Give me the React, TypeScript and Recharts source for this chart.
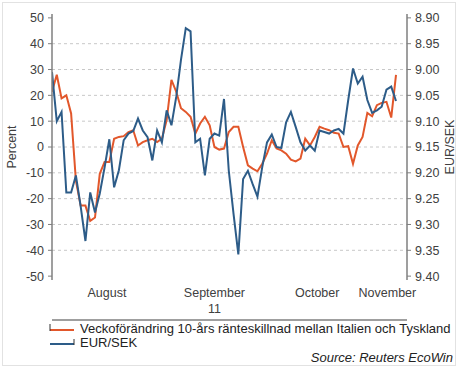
import React from 'react';
import { ComposedChart, Line, XAxis, YAxis, ReferenceLine, Legend } from 'recharts';

// Business-day index from 1 Aug 2011 (0) to ~10 Nov 2011
const spreadChange = [
  21.4, 28, 18.8, 20, 13, -13, -22.7, -22.7, -28.6, -27.3,
  -10.4, -5.8, -5.8, 3.2, 3.9, 4.2, 5.8, 6.5, 0.6, 1.9,
  2.6, 3.2, 1.9, 3.2, 10.4, 26, 21.4, 15, 13.6, 11.7,
  5.2, 9.1, 11.7, 8.4, 0, -1, -0.6, 5.8, 7.8, 7.8,
  0, -7.1, -8.4, -9.4, -6.5, -2.6, 2.6, -0.6, -1.3, -2.6,
  -4.9, -5.6, -4.5, 3.2, 0.6, 3.9, 7.8, 7.1, 6.5, 5.5,
  5.2, 0, 0.3, -6.5, 0.6, 3.9, 13.2, 11.9, 16.2, 17.1,
  17.5, 11.4, 27.9,
];

const eurSek = [
  9.005, 9.1, 9.082, 9.238, 9.238, 9.205, 9.265, 9.332, 9.238, 9.277,
  9.24, 9.19, 9.135, 9.228, 9.195, 9.137, 9.124, 9.119, 9.095, 9.118,
  9.131, 9.176, 9.118, 9.141, 9.079, 9.108, 9.053, 8.981, 8.92, 8.926,
  9.141, 9.134, 9.205, 9.134, 9.124, 9.128, 9.057, 9.196, 9.28, 9.358,
  9.212, 9.196, 9.222, 9.246, 9.189, 9.141, 9.126, 9.15, 9.152, 9.102,
  9.082, 9.111, 9.141, 9.157, 9.147, 9.157, 9.118, 9.121, 9.124, 9.118,
  9.115, 9.124, 9.059, 8.998, 9.027, 9.014, 9.059, 9.084, 9.079, 9.072,
  9.039, 9.033, 9.061,
];

const monthStarts = [0, 23, 45, 66];
const monthMids = [11.5, 34, 55.5, 70.2];
const monthLabels = ['August', 'September', 'October', 'November'];
const yearLabel = '11';
const leftTicks = [-50, -40, -30, -20, -10, 0, 10, 20, 30, 40, 50];
const rightTicks = [8.9, 8.95, 9.0, 9.05, 9.1, 9.15, 9.2, 9.25, 9.3, 9.35, 9.4];
const gridValues = [-40, -30, -20, -10, 0, 10, 20, 30, 40];

const seriesNames = {
  spread: 'Veckoförändring 10-års ränteskillnad mellan Italien och Tyskland',
  sek: 'EUR/SEK',
};
const legendOrder = [seriesNames.spread, seriesNames.sek];
const sourceText = 'Source: Reuters EcoWin';

const data = spreadChange.map((v, i) => ({ i, spread: v, sek: eurSek[i] }));

const FONT = '"Liberation Sans", Arial, sans-serif';
const ORANGE = '#E2572B';
const BLUE = '#2D5C88';
const AXIS = '#7f7f7f';
const TEXT = '#404040';

const MonthTick = (props: any) => {
  const { x, y, payload } = props;
  const idx = monthMids.indexOf(payload.value);
  return (
    <g>
      <text x={x} y={y} dy={17} textAnchor="middle" fontSize={12.5} fontFamily={FONT} fill={TEXT}>
        {monthLabels[idx]}
      </text>
      {idx === 1 && (
        <text x={x} y={y} dy={33} textAnchor="middle" fontSize={12.5} fontFamily={FONT} fill={TEXT}>
          {yearLabel}
        </text>
      )}
    </g>
  );
};

const SideLabel = (text: string, cx: (vb: any) => number) => (props: any) => {
  const vb = props.viewBox;
  const x = cx(vb);
  const y = vb.y + vb.height / 2;
  return (
    <text x={x} y={y} transform={`rotate(-90 ${x} ${y})`} textAnchor="middle" dominantBaseline="central" fontSize={12.5} fontFamily={FONT} fill={TEXT}>
      {text}
    </text>
  );
};

const renderLegend = (props: any) => {
  const payload = [...(props.payload || [])].sort(
    (a: any, b: any) => legendOrder.indexOf(a.value) - legendOrder.indexOf(b.value)
  );
  return (
    <div style={{ position: 'relative', width: 458, height: 46, fontFamily: FONT, fontSize: 13, color: '#222' }}>
      {payload.map((p: any, k: number) => (
        <div key={k} style={{ position: 'absolute', left: 49, top: k * 14, height: 14, lineHeight: '14px', display: 'flex', alignItems: 'center', whiteSpace: 'nowrap' }}>
          <svg width={28} height={14} style={{ display: 'block' }}>
            <line x1={1} y1={8} x2={25} y2={8} stroke={p.color} strokeWidth={2} />
            {k === 0 ? (
              <line x1={1} y1={2} x2={1} y2={9} stroke="#333" strokeWidth={1} />
            ) : (
              <line x1={25} y1={3} x2={25} y2={9} stroke="#333" strokeWidth={1} />
            )}
          </svg>
          <span style={{ marginLeft: 3 }}>{p.value}</span>
        </div>
      ))}
      <div style={{ position: 'absolute', right: 5, top: 29, lineHeight: '14px', fontStyle: 'italic', whiteSpace: 'nowrap' }}>{sourceText}</div>
    </div>
  );
};

export default function App() {
  return (
    <div style={{ position: 'absolute', left: 0, top: 0, width: 458, height: 368, background: '#fff' }}>
      <div style={{ position: 'absolute', left: 2, top: 2, width: 452, height: 362, border: '1px solid #e2e2e2' }} />
      <ComposedChart width={458} height={368} data={data} margin={{ top: 14, right: 0, left: 0, bottom: 42 }}>
        {gridValues.map((g) => (
          <ReferenceLine key={g} yAxisId="l" y={g} stroke="#c8c8c8" strokeDasharray="3 3" />
        ))}
        <XAxis xAxisId="top" orientation="top" dataKey="i" type="number" domain={[0, 74.3]} allowDataOverflow tick={false} tickLine={false} height={0} axisLine={{ stroke: AXIS, strokeWidth: 1.5 }} />
        <XAxis xAxisId="x" dataKey="i" type="number" domain={[0, 74.3]} allowDataOverflow ticks={monthStarts} tick={false} tickSize={6} height={6} axisLine={{ stroke: AXIS, strokeWidth: 1.5 }} tickLine={{ stroke: AXIS }} />
        <XAxis xAxisId="m" dataKey="i" type="number" domain={[0, 74.3]} allowDataOverflow ticks={monthMids} tick={<MonthTick />} tickSize={0} tickMargin={0} axisLine={false} tickLine={false} height={40} />
        <YAxis yAxisId="l" type="number" domain={[-51.5, 51.5]} allowDataOverflow ticks={leftTicks} width={52} tickSize={4} tickMargin={4} axisLine={{ stroke: AXIS, strokeWidth: 1.5 }} tickLine={{ stroke: AXIS }} tick={{ fontSize: 12.5, fontFamily: FONT, fill: TEXT }} label={{ content: SideLabel('Percent', (vb: any) => vb.x + 12) }} />
        <YAxis yAxisId="r" orientation="right" type="number" reversed domain={[8.8925, 9.4075]} allowDataOverflow ticks={rightTicks} tickFormatter={(v: number) => v.toFixed(2)} width={51} tickSize={4} tickMargin={4} axisLine={{ stroke: AXIS, strokeWidth: 1.5 }} tickLine={{ stroke: AXIS }} tick={{ fontSize: 12.5, fontFamily: FONT, fill: TEXT }} label={{ content: SideLabel('EUR/SEK', (vb: any) => vb.x + 43) }} />
        <Line xAxisId="x" yAxisId="l" dataKey="spread" name={seriesNames.spread} stroke={ORANGE} strokeWidth={2} dot={false} type="linear" isAnimationActive={false} />
        <Line xAxisId="x" yAxisId="r" dataKey="sek" name={seriesNames.sek} stroke={BLUE} strokeWidth={2} dot={false} type="linear" isAnimationActive={false} />
        <Legend layout="horizontal" verticalAlign="middle" align="center" content={renderLegend} wrapperStyle={{ top: 322, left: 0, width: 458 }} />
      </ComposedChart>
    </div>
  );
}
